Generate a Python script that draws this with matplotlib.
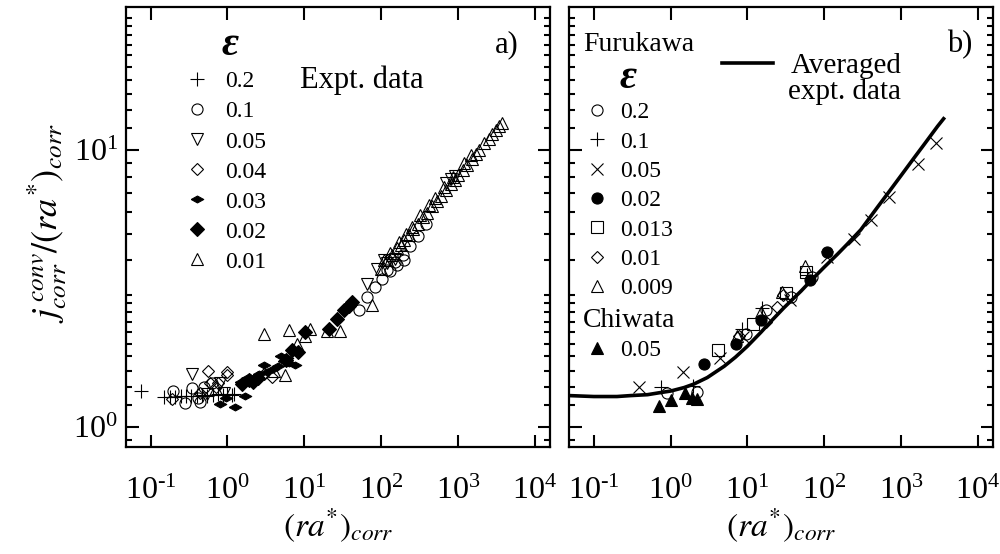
import numpy as np
import matplotlib.pyplot as plt
from matplotlib.ticker import FixedLocator, NullFormatter, NullLocator

plt.rcParams['font.family'] = ['Liberation Serif', 'DejaVu Serif']
plt.rcParams['mathtext.fontset'] = 'stix'

# ---- panel a: experimental data, one list per epsilon ----
a_02_x = [0.076, 0.15, 0.18, 0.21, 0.25, 0.29, 0.34, 0.40, 0.47, 0.55, 0.64, 0.75, 0.87, 1.0, 1.15, 1.22]
a_02_y = [1.35, 1.29, 1.29, 1.29, 1.30, 1.30, 1.30, 1.30, 1.31, 1.30, 1.31, 1.32, 1.31, 1.32, 1.31, 1.32]

a_01_x = [0.198, 0.28, 0.343, 0.44, 0.49, 0.625, 0.42, 51, 66, 84, 103, 132, 162, 198, 120, 150, 190, 240, 300, 380]
a_01_y = [1.35, 1.22, 1.38, 1.23, 1.40, 1.44, 1.27, 2.66, 2.95, 3.22, 3.44, 3.66, 3.84, 4.0, 3.7, 3.95, 4.2, 4.5, 4.9, 5.4]

a_005_x = [0.343, 0.80, 0.55, 0.9, 66, 89, 108, 120, 150, 700, 800, 900]
a_005_y = [1.55, 1.44, 1.32, 1.33, 3.30, 3.73, 4.02, 3.9, 4.05, 7.6, 7.9, 8.1]

a_004_x = [0.188, 0.565, 0.594, 0.76, 0.98, 1.0, 0.44, 0.7, 2.95, 3.8]
a_004_y = [1.26, 1.59, 1.44, 1.44, 1.58, 1.54, 1.33, 1.40, 1.56, 1.52]

a_003_x = [0.80, 0.95, 1.26, 1.70, 1.5, 1.9, 2.3, 2.6, 2.95, 3.3, 3.9, 4.5, 5.4, 6.25, 7.6, 5.0, 6.0]
a_003_y = [1.21, 1.27, 1.18, 1.30, 1.45, 1.52, 1.48, 1.56, 1.67, 1.58, 1.62, 1.66, 1.73, 1.70, 1.67, 1.80, 1.78]

a_002_x = [1.54, 1.88, 2.18, 2.5, 5.8, 6.9, 8.4, 10.3, 20.7, 26.7, 32.6, 38, 41.9]
a_002_y = [1.43, 1.48, 1.45, 1.50, 1.75, 1.90, 1.87, 2.20, 2.27, 2.45, 2.64, 2.75, 2.83]

a_001_x = [2.95, 6.25, 12, 5.65, 8.0, 10.3, 19.8, 29.5, 76, 4.0, 1180, 1470,
           100, 120, 140, 160, 180, 200, 230, 260, 300, 350, 400, 460, 530, 600, 700,
           800, 900, 1000, 1150, 1300, 1500, 1700, 1900, 2200, 2500, 2800, 3100, 3400, 3700,
           110, 130, 170, 210, 250, 320, 420, 500, 650, 850]
a_001_y = [2.17, 2.25, 2.27, 1.54, 2.0, 2.14, 2.23, 2.23, 2.77, 1.60, 8.97, 9.6,
           3.72, 4.02, 4.18, 4.42, 4.55, 4.76, 4.93, 5.2, 5.4, 5.73, 5.95, 6.28, 6.55, 6.85, 7.18,
           7.55, 7.8, 8.12, 8.48, 8.87, 9.27, 9.71, 10.02, 10.6, 10.98, 11.48, 11.83, 12.22, 12.55,
           4.0, 4.25, 4.65, 5.0, 5.3, 5.85, 6.35, 6.75, 7.35, 8.0]

# ---- panel b: Furukawa / Chiwata data and averaged curve ----
b_02_x = [0.905, 2.23, 9.5, 17.3, 36.7, 70]
b_02_y = [1.33, 1.34, 2.17, 2.64, 2.95, 3.48]
b_01_x = [0.74, 1.98, 8.6, 15.7, 60]
b_01_y = [1.395, 1.41, 2.27, 2.70, 3.55]
b_005_x = [0.386, 1.46, 4.4, 8.9, 36, 110, 246, 406, 695, 1675, 2850]
b_005_y = [1.395, 1.58, 1.77, 2.11, 2.89, 4.12, 4.79, 5.58, 6.78, 8.95, 10.6]
b_002_x = [2.72, 7.2, 14.9, 66, 110]
b_002_y = [1.69, 2.0, 2.43, 3.39, 4.29]
b_0013_x = [4.14, 12, 31.6, 57.7]
b_0013_y = [1.90, 2.36, 3.05, 3.63]
b_001_x = [7.8, 17.3, 24, 29.5]
b_001_y = [2.14, 2.40, 2.72, 2.99]
b_0009_x = [7.4, 15.2, 28.6, 56]
b_0009_y = [2.14, 2.60, 3.07, 3.82]
chi_005_x = [0.705, 1.0, 1.54, 1.92, 2.23]
chi_005_y = [1.19, 1.25, 1.33, 1.27, 1.26]

avg_x = [0.048, 0.1, 0.2, 0.3, 0.5, 0.7, 1.0, 1.5, 2, 3, 5, 7, 10, 15, 20, 30, 50, 70,
         100, 150, 200, 300, 500, 700, 1000, 1500, 2000, 3000, 3600]
avg_y = [1.30, 1.29, 1.29, 1.30, 1.31, 1.33, 1.35, 1.39, 1.43, 1.51, 1.66, 1.79, 1.96, 2.20,
         2.40, 2.70, 3.10, 3.42, 3.78, 4.22, 4.58, 5.16, 6.25, 7.08, 8.09, 9.42, 10.48, 12.2, 13.0]

xticks = [1e-1, 1e0, 1e1, 1e2, 1e3, 1e4]
xticklabels = [r'$\mathregular{10^{‐1}}$', r'$\mathregular{10^{0}}$', r'$\mathregular{10^{1}}$',
               r'$\mathregular{10^{2}}$', r'$\mathregular{10^{3}}$', r'$\mathregular{10^{4}}$']
yticks = [1, 10]
yticklabels = [r'$\mathregular{10^{0}}$', r'$\mathregular{10^{1}}$']
yminor = [0.9, 1.2, 1.4, 1.6, 1.8, 2, 2.2, 2.4, 2.6, 2.8, 3, 4, 5, 6, 7, 8, 9,
          12, 14, 16, 18, 20, 22, 24, 26, 28, 30]

flat_diamond = [(-1, 0), (0, 0.55), (1, 0), (0, -0.55), (-1, 0)]

fig = plt.figure(figsize=(10, 5.54), dpi=100)
ax1 = fig.add_axes([0.126, 0.1937, 0.424, 0.7942])
ax2 = fig.add_axes([0.5693, 0.1937, 0.4234, 0.7942])

for ax in (ax1, ax2):
    ax.set_xscale('log')
    ax.set_yscale('log')
    ax.set_xlim(0.0479, 15700)
    ax.set_ylim(0.85, 33)
    ax.xaxis.set_major_locator(FixedLocator(xticks))
    ax.xaxis.set_minor_locator(NullLocator())
    ax.yaxis.set_major_locator(FixedLocator(yticks))
    ax.yaxis.set_minor_locator(FixedLocator(yminor))
    ax.yaxis.set_minor_formatter(NullFormatter())
    ax.set_xticklabels(xticklabels)
    ax.tick_params(which='both', direction='in', top=True, right=True, width=1.5)
    ax.tick_params(which='major', length=9)
    ax.tick_params(which='minor', length=4)
    ax.tick_params(axis='x', labelsize=23, pad=22)
    ax.tick_params(axis='y', labelsize=23, pad=6)
    for s in ax.spines.values():
        s.set_linewidth(1.6)
    ax.set_xlabel(r'$(ra^{*})_{corr}$', fontsize=24, labelpad=0)

ax1.set_yticklabels(yticklabels)
ax2.set_yticklabels([])
ax1.set_ylabel(r'$j^{\,conv}_{corr}/(ra^{*})_{corr}$', fontsize=26)
ax1.yaxis.set_label_coords(-0.135, 0.508)

ms = 8
mk = dict(ls='none', mec='k', mew=0.8)
h1 = [
    ax1.plot(a_02_x, a_02_y, marker='+', ms=ms + 2, color='k', **mk)[0],
    ax1.plot(a_01_x, a_01_y, marker='o', ms=ms, mfc='none', **mk)[0],
    ax1.plot(a_005_x, a_005_y, marker='v', ms=ms, mfc='none', **mk)[0],
    ax1.plot(a_004_x, a_004_y, marker='D', ms=ms - 2, mfc='none', **mk)[0],
    ax1.plot(a_003_x, a_003_y, marker=flat_diamond, ms=ms + 1, mfc='k', **mk)[0],
    ax1.plot(a_002_x, a_002_y, marker='D', ms=ms - 1, mfc='k', **mk)[0],
    ax1.plot(a_001_x, a_001_y, marker='^', ms=ms, mfc='none', **mk)[0],
]
ax1.legend(h1, ['0.2', '0.1', '0.05', '0.04', '0.03', '0.02', '0.01'],
           loc='upper left', bbox_to_anchor=(0.14, 0.854), frameon=False, fontsize=17,
           handlelength=1.0, handletextpad=0.7, labelspacing=0.36, borderpad=0, borderaxespad=0)
ax1.text(0.245, 0.913, 'ε', transform=ax1.transAxes, fontsize=30, style='italic',
         fontweight='bold', ha='center', va='center')
ax1.text(0.41, 0.833, 'Expt. data', transform=ax1.transAxes, fontsize=22, ha='left', va='center')
ax1.text(0.899, 0.913, 'a)', transform=ax1.transAxes, fontsize=22, ha='center', va='center')

line, = ax2.plot(avg_x, avg_y, color='k', lw=2.6)
h2 = [
    ax2.plot(b_02_x, b_02_y, marker='o', ms=ms, mfc='none', **mk)[0],
    ax2.plot(b_01_x, b_01_y, marker='+', ms=ms + 2, color='k', **mk)[0],
    ax2.plot(b_005_x, b_005_y, marker='x', ms=ms + 1, color='k', **mk)[0],
    ax2.plot(b_002_x, b_002_y, marker='o', ms=ms, mfc='k', **mk)[0],
    ax2.plot(b_0013_x, b_0013_y, marker='s', ms=ms, mfc='none', **mk)[0],
    ax2.plot(b_001_x, b_001_y, marker='D', ms=ms - 2, mfc='none', **mk)[0],
    ax2.plot(b_0009_x, b_0009_y, marker='^', ms=ms, mfc='none', **mk)[0],
]
h3 = ax2.plot(chi_005_x, chi_005_y, marker='^', ms=ms, mfc='k', **mk)[0]

leg_f = ax2.legend(h2, ['0.2', '0.1', '0.05', '0.02', '0.013', '0.01', '0.009'],
                   loc='upper left', bbox_to_anchor=(0.042, 0.784), frameon=False, fontsize=17,
                   handlelength=0.8, handletextpad=0.6, labelspacing=0.33, borderpad=0, borderaxespad=0)
ax2.add_artist(leg_f)
leg_c = ax2.legend([h3], ['0.05'], loc='upper left', bbox_to_anchor=(0.042, 0.243), frameon=False,
                   fontsize=17, handlelength=0.8, handletextpad=0.6, borderpad=0, borderaxespad=0)
ax2.add_artist(leg_c)
ax2.legend([line], ['Averaged'], loc='upper left', bbox_to_anchor=(0.361, 0.896), frameon=False,
           fontsize=21, handlelength=1.75, handletextpad=0.6, borderpad=0, borderaxespad=0)
ax2.text(0.651, 0.806, 'expt. data', transform=ax2.transAxes, fontsize=21, ha='center', va='center')
ax2.text(0.032, 0.913, 'Furukawa', transform=ax2.transAxes, fontsize=20, ha='left', va='center')
ax2.text(0.138, 0.838, 'ε', transform=ax2.transAxes, fontsize=30, style='italic',
         fontweight='bold', ha='center', va='center')
ax2.text(0.032, 0.286, 'Chiwata', transform=ax2.transAxes, fontsize=20, ha='left', va='center')
ax2.text(0.922, 0.913, 'b)', transform=ax2.transAxes, fontsize=22, ha='center', va='center')

fig.savefig('out.png', dpi=100)
